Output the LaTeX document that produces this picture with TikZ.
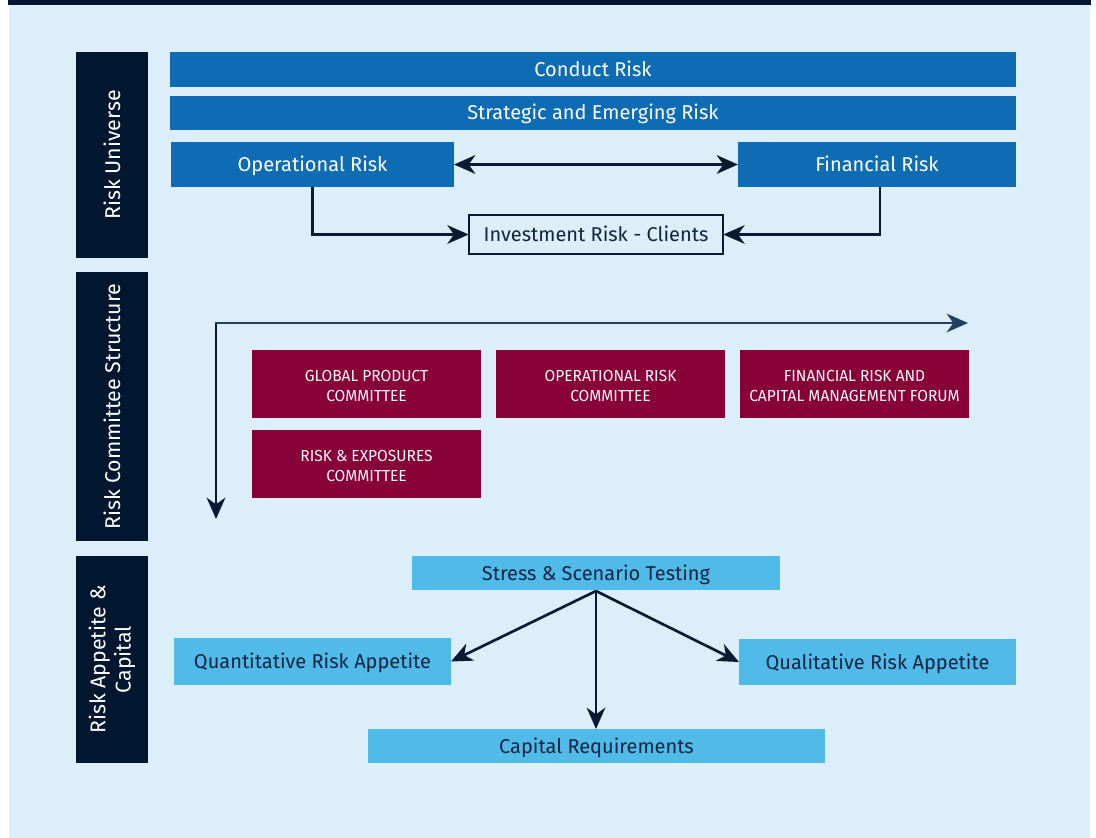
\documentclass[tikz,border=0pt]{standalone}
\usepackage{fontspec}
\setmainfont{Fira Sans}
\newfontfamily\condfont[FakeStretch=0.97]{Fira Sans}
\usetikzlibrary{arrows.meta}
\definecolor{navy}{HTML}{00172F}
\definecolor{panel}{HTML}{DCEEFA}
\definecolor{midblue}{HTML}{0E6CB5}
\definecolor{lightblue}{HTML}{50BBE9}
\definecolor{maroon}{HTML}{870036}
\definecolor{arrowc}{HTML}{0A1A33}
\definecolor{slate}{HTML}{22405F}
\definecolor{darktext}{HTML}{0F2440}
\tikzset{
  base/.style={inner sep=0pt, outer sep=0pt, draw=none, anchor=center},
  fixtext/.style={text height=1.05em, text depth=0pt},
  sidebox/.style={base, fill=navy, minimum width=54pt},
  sidetext/.style={text=white, font=\fontsize{16}{18}\selectfont, rotate=90, align=center},
  bluebox/.style={base, fixtext, fill=midblue, text=white, font=\fontsize{15}{18}\selectfont},
  lightbox/.style={base, fixtext, fill=lightblue, text=darktext, font=\fontsize{15}{18}\selectfont},
  comm/.style={base, fill=maroon, text=white!92!pink, align=center, minimum width=171.75pt, minimum height=51pt, font=\condfont\fontsize{12}{15}\selectfont},
  commtext/.style={text=white!92!pink, align=center, font=\condfont\fontsize{12}{15}\selectfont},
  outlinebox/.style={inner sep=0pt, outer sep=0pt, fixtext, draw=arrowc, line width=1.5pt, fill=panel, text=darktext, font=\fontsize{15}{18}\selectfont},
  conn/.style={draw=arrowc, line width=2pt, -{Stealth[length=16pt, width=14pt, inset=5pt]}},
  conn2/.style={draw=arrowc, line width=2pt, {Stealth[length=16pt, width=14pt, inset=5pt]}-{Stealth[length=16pt, width=14pt, inset=5pt]}},
}
\begin{document}
\begin{tikzpicture}[x=0.75pt, y=-0.75pt]
\useasboundingbox (0,0) rectangle (1096,838);
% background
\fill[white] (0,0) rectangle (1096,838);
\fill[panel] (9,5) rectangle (1090,838);
\fill[navy] (8,0) rectangle (1091,5);

% sidebars
\node[sidebox, minimum height=154.5pt] (sb1) at (112,155) {};
\node[sidetext] (sb1t) at (sb1.center) {Risk Universe};
\node[sidebox, minimum height=201.75pt] (sb2) at (112,406.5) {};
\node[sidetext] (sb2t) at (sb2.center) {Risk Committee Structure};
\node[sidebox, minimum height=155.25pt] (sb3) at (112,659.5) {};
\node[sidetext, font=\fontsize{16}{19}\selectfont] (sb3t) at (sb3.center) {Risk Appetite \&\\Capital};

% risk universe
\node[bluebox, minimum width=634.5pt, minimum height=26.25pt] (conduct) at (593,69.5) {Conduct Risk};
\node[bluebox, minimum width=634.5pt, minimum height=25.5pt] (strategic) at (593,113) {Strategic and Emerging Risk};
\node[bluebox, minimum width=212.25pt, minimum height=33.75pt] (oprisk) at (312.5,164.5) {Operational Risk};
\node[bluebox, minimum width=208.5pt, minimum height=33.75pt] (finrisk) at (877,164.5) {Financial Risk};
\node[outlinebox, minimum width=191pt, minimum height=29.5pt] (invest) at (596,234.5) {Investment Risk - Clients};

\draw[conn2] (oprisk.east) -- (finrisk.west);
\draw[conn] (oprisk.south) |- (invest.west);
\draw[conn] (finrisk.south -| 880,0) |- (invest.east);

% committee structure
\coordinate (corner) at (216,323);
\coordinate (hend) at (968,323);
\coordinate (vend) at (216,519);
\draw[conn, draw=slate, fill=slate] ([xshift=-1pt]corner) -- (hend);
\draw[conn] ([yshift=-1pt]corner) -- (vend);

\node[comm] (gpc) at (366.5,384) {};
\node[commtext] (gpct) at ([yshift=-1.5pt]gpc.center) {GLOBAL PRODUCT\\COMMITTEE};
\node[comm] (orc) at (610.5,384) {};
\node[commtext] (orct) at ([yshift=-1.5pt]orc.center) {OPERATIONAL RISK\\COMMITTEE};
\node[comm] (frc) at (854.5,384) {};
\node[commtext] (frct) at ([yshift=-1.5pt]frc.center) {FINANCIAL RISK AND\\CAPITAL MANAGEMENT FORUM};
\node[comm] (rec) at (366.5,464) {};
\node[commtext] (rect) at ([yshift=-1.5pt]rec.center) {RISK \& EXPOSURES\\COMMITTEE};

% risk appetite & capital
\node[lightbox, minimum width=276pt, minimum height=25.5pt] (stress) at (596,573) {Stress \& Scenario Testing};
\node[lightbox, minimum width=207.75pt, minimum height=35.25pt] (quant) at (312.5,661.5) {Quantitative Risk Appetite};
\node[lightbox, minimum width=207.75pt, minimum height=34.5pt] (qual) at (877.5,662) {Qualitative Risk Appetite};
\node[lightbox, minimum width=342.75pt, minimum height=25.5pt] (capreq) at (596.5,746) {Capital Requirements};

\coordinate (hub) at (596,591);
\draw[conn] (hub) -- (quant.east);
\draw[conn] (hub) -- (qual.west);
\draw[conn] (hub) -- (capreq.north -| hub);
\end{tikzpicture}
\end{document}
